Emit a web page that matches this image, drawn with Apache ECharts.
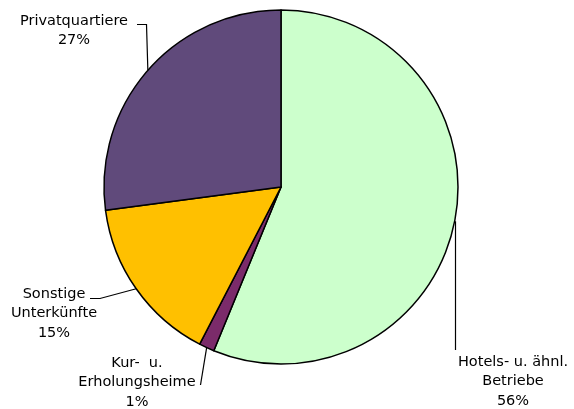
<!DOCTYPE html>
<html>
<head>
<meta charset="utf-8">
<script src="https://cdn.jsdelivr.net/npm/echarts@6/dist/echarts.min.js"></script>
<style>html,body{margin:0;padding:0;background:#fff}#c{width:574px;height:409px}</style>
</head>
<body>
<div id="c"></div>
<script>
var categories = ['Hotels- u. ähnl.\nBetriebe', 'Kur-  u.\nErholungsheime', 'Sonstige\nUnterkünfte', 'Privatquartiere'];
var values = [56.2, 1.4, 15.3, 27.1];
var colors = ['#CCFFCC', '#7B2B6A', '#FFC000', '#604A7B'];
// label anchor (center x, top y) and leader-line bend points (after the point on the arc)
var labelSpots = [[513, 352], [137, 353], [54, 284], [74, 11]];
var leaderBends = [[[455.5, 350]], [[200.5, 385]], [[100, 298.5], [90, 298.5]], [[146.5, 24.5], [137, 24.5]]];

var total = values.reduce(function (a, b) { return a + b; }, 0);
var chart = echarts.init(document.getElementById('c'));
chart.setOption({
  animation: false,
  series: [{
    type: 'pie',
    center: [281, 187],
    radius: 177,
    startAngle: 90,
    clockwise: true,
    data: categories.map(function (n, i) {
      return { name: n, value: values[i], itemStyle: { color: colors[i] } };
    }),
    itemStyle: { borderColor: '#000', borderWidth: 1.5 },
    label: {
      show: true,
      position: 'outside',
      formatter: function (p) { return p.name + '\n' + Math.round(p.value / total * 100) + '%'; },
      fontFamily: 'DejaVu Sans',
      fontSize: 14.5,
      lineHeight: 19.5,
      color: '#000',
      align: 'center',
      overflow: 'none'
    },
    labelLine: { show: false },
    labelLayout: function (p) {
      var s = labelSpots[p.dataIndex];
      return { x: s[0], y: s[1], align: 'center', verticalAlign: 'top' };
    },
    emphasis: { disabled: true }
  }]
});

// leader lines start at the mid-angle point on each slice's arc (from the library's own layout)
var data = chart.getModel().getSeriesByIndex(0).getData();
var elements = [];
for (var i = 0; i < categories.length; i++) {
  var L = data.getItemLayout(i);
  var mid = (L.startAngle + L.endAngle) / 2;
  var start = [L.cx + L.r * Math.cos(mid), L.cy + L.r * Math.sin(mid)];
  var pts = [start].concat(leaderBends[i]);
  if (i === 0) pts = [[leaderBends[0][0][0], start[1]], leaderBends[0][0]];
  elements.push({
    type: 'polyline',
    silent: true,
    z: 10,
    shape: { points: pts },
    style: { stroke: '#000', lineWidth: 1.2, fill: null }
  });
}
chart.setOption({ graphic: { elements: elements } });
</script>
</body>
</html>
